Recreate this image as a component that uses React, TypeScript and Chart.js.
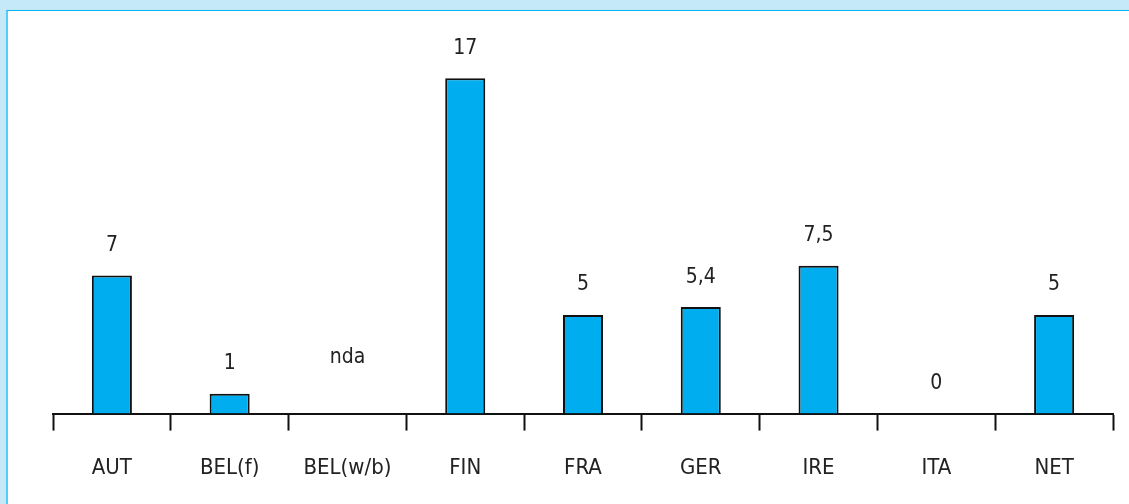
import React, { useEffect, useRef } from "react";
import { Chart, registerables } from "chart.js";

Chart.register(...registerables);

const categories = ["AUT", "BEL(f)", "BEL(w/b)", "FIN", "FRA", "GER", "IRE", "ITA", "NET"];
const values: (number | null)[] = [7, 1, null, 17, 5, 5.4, 7.5, 0, 5];
const valueLabels = ["7", "1", "nda", "17", "5", "5,4", "7,5", "0", "5"];
// value at which each label is anchored (bar top, or near baseline for missing data)
const labelAnchors = [7, 1, 1.3, 17, 5, 5.4, 7.5, 0, 5];

const FONT = "'Liberation Sans Narrow', 'DejaVu Sans Condensed', 'Roboto', sans-serif";

const valueLabelPlugin = {
  id: "valueLabels",
  afterDatasetsDraw(chart: any) {
    const meta = chart.getDatasetMeta(0);
    const yScale = chart.scales.y;
    const ctx = chart.ctx;
    ctx.save();
    ctx.font = `21px ${FONT}`;
    ctx.fillStyle = "#222";
    ctx.textAlign = "center";
    ctx.textBaseline = "middle";
    meta.data.forEach((el: any, i: number) => {
      const x = el.x;
      const y = yScale.getPixelForValue(labelAnchors[i]) - 30;
      ctx.fillText(valueLabels[i], x, y);
    });
    ctx.restore();
  },
};

export default function App() {
  const ref = useRef<HTMLCanvasElement>(null);
  useEffect(() => {
    document.body.style.margin = "0";
    const chart = new Chart(ref.current!, {
      type: "bar",
      data: {
        labels: categories,
        datasets: [
          {
            data: values as any,
            backgroundColor: "#00AEEF",
            borderColor: "#111",
            borderWidth: 2,
            barPercentage: 0.34,
            categoryPercentage: 1,
          },
        ],
      },
      options: {
        animation: false,
        responsive: false,
        maintainAspectRatio: false,
        layout: { padding: { left: 53, right: 16, top: 19, bottom: -1 } },
        plugins: { legend: { display: false }, tooltip: { enabled: false } },
        scales: {
          x: {
            offset: true,
            grid: {
              offset: true,
              drawOnChartArea: false,
              drawTicks: true,
              tickLength: 17,
              tickWidth: 2,
              tickColor: "#111",
            },
            border: { display: true, color: "#111", width: 2 },
            ticks: {
              color: "#222",
              padding: 24,
              font: { family: FONT, size: 22 },
              maxRotation: 0,
              autoSkip: false,
            },
          },
          y: { display: false, min: 0, max: 20 },
        },
      },
      plugins: [valueLabelPlugin],
    });
    return () => chart.destroy();
  }, []);

  return (
    <div style={{ position: "fixed", left: 0, top: 0, width: 1129, height: 504, background: "#C5E9F9", overflow: "hidden" }}>
      <div
        style={{
          position: "absolute",
          left: 6,
          top: 10,
          right: 0,
          bottom: 0,
          background: "#fff",
          borderLeft: "2px solid #55CDF6",
          borderTop: "1px solid #00B9F2",
        }}
      />
      <canvas ref={ref} width={1129} height={504} style={{ position: "absolute", left: 0, top: 0 }} />
    </div>
  );
}
